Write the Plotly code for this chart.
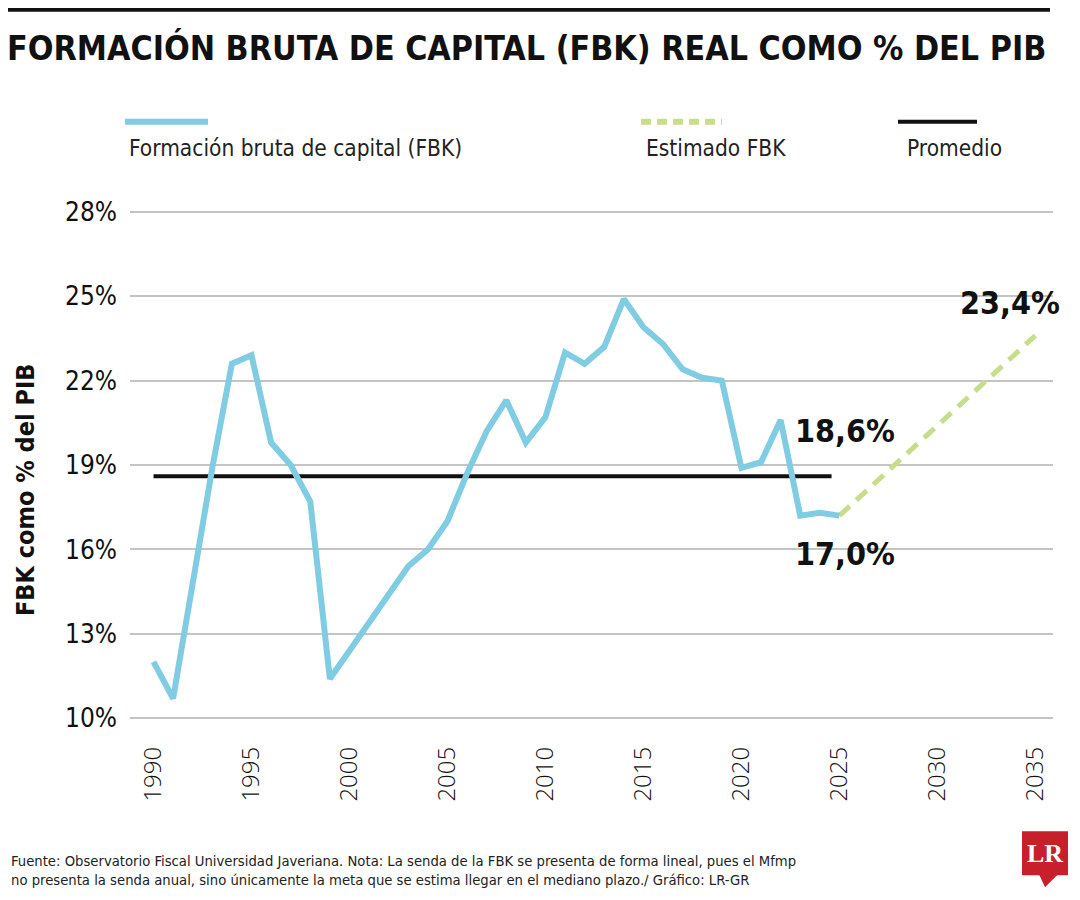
import plotly.graph_objects as go

# Formación bruta de capital real, % del PIB
years = list(range(1990, 2026))
fbk = [12.0, 10.7, 14.8, 18.9, 22.6, 22.9, 19.8, 19.0, 17.7, 11.4,
       12.4, 13.4, 14.4, 15.4, 16.0, 17.0, 18.7, 20.2, 21.3, 19.8,
       20.7, 23.0, 22.6, 23.2, 24.9, 23.9, 23.3, 22.4, 22.1, 22.0,
       18.9, 19.1, 20.6, 17.2, 17.3, 17.2]

est_years = [2025, 2035]
est_fbk = [17.2, 23.6]

avg_years = [1990, 2024.6]
avg_fbk = [18.6, 18.6]

y_ticks = [10, 13, 16, 19, 22, 25, 28]
x_ticks = [1990, 1995, 2000, 2005, 2010, 2015, 2020, 2025, 2030, 2035]

BLUE = "#7fcce3"
GREEN = "#c6dd8a"
DARK = "#111111"
NARROW = "DejaVu Sans Condensed, Liberation Sans Narrow, sans-serif"

# plot area in page pixels (page body has an 8px margin)
L, R, T, B = 130, 1053, 209.2, 720.8
W, H = 1072, 892


def px(x):
    return (x - L) / (R - L)


def py(y):
    return (B - y) / (B - T)


fig = go.Figure()

fig.add_trace(go.Scatter(x=avg_years, y=avg_fbk, mode="lines",
                         line=dict(color=DARK, width=4), hoverinfo="skip"))
fig.add_trace(go.Scatter(x=est_years, y=est_fbk, mode="lines",
                         line=dict(color=GREEN, width=5, dash="14px,9px")))
fig.add_trace(go.Scatter(x=years, y=fbk, mode="lines",
                         line=dict(color=BLUE, width=6)))

shapes = [
    # thick rule above the title
    dict(type="rect", xref="paper", yref="paper",
         x0=px(8), x1=px(1050), y0=py(12), y1=py(4),
         fillcolor=DARK, line_width=0, layer="above"),
    # legend keys
    dict(type="line", xref="paper", yref="paper",
         x0=px(125), x1=px(208), y0=py(122), y1=py(122),
         line=dict(color=BLUE, width=6)),
    dict(type="line", xref="paper", yref="paper",
         x0=px(641), x1=px(722), y0=py(122), y1=py(122),
         line=dict(color=GREEN, width=6, dash="10px,6px")),
    dict(type="line", xref="paper", yref="paper",
         x0=px(898), x1=px(977), y0=py(122), y1=py(122),
         line=dict(color=DARK, width=4)),
    # LR logo
    dict(type="rect", xref="paper", yref="paper",
         x0=px(1022), x1=px(1068), y0=py(875), y1=py(831),
         fillcolor="#c8202a", line_width=0),
    dict(type="path", xref="paper", yref="paper",
         path=f"M {px(1039)},{py(874)} L {px(1058)},{py(874)} L {px(1045)},{py(887)} Z",
         fillcolor="#c8202a", line_width=0),
]

annotations = [
    dict(text="<b>FORMACIÓN BRUTA DE CAPITAL (FBK) REAL COMO % DEL PIB</b>",
         x=px(5), y=py(48), xanchor="left", yanchor="middle",
         font=dict(family=NARROW, size=33.7, color=DARK)),
    dict(text="Formación bruta de capital (FBK)", x=px(127), y=py(148),
         xanchor="left", yanchor="middle",
         font=dict(family=NARROW, size=22.5, color="#222")),
    dict(text="Estimado FBK", x=px(644), y=py(148),
         xanchor="left", yanchor="middle",
         font=dict(family=NARROW, size=22.5, color="#222")),
    dict(text="Promedio", x=px(905), y=py(148),
         xanchor="left", yanchor="middle",
         font=dict(family=NARROW, size=22.5, color="#222")),
    dict(text="<b>FBK como % del PIB</b>", x=px(25), y=py(490),
         xanchor="center", yanchor="middle", textangle=-90,
         font=dict(family=NARROW, size=25, color=DARK)),
    dict(text="<b>18,6%</b>", xref="x", yref="y", x=2025.3, y=20.2,
         xanchor="center", yanchor="middle",
         font=dict(family=NARROW, size=32, color=DARK)),
    dict(text="<b>17,0%</b>", xref="x", yref="y", x=2025.3, y=15.85,
         xanchor="center", yanchor="middle",
         font=dict(family=NARROW, size=32, color=DARK)),
    dict(text="<b>23,4%</b>", xref="x", yref="y", x=2033.7, y=24.75,
         xanchor="center", yanchor="middle",
         font=dict(family=NARROW, size=32, color=DARK)),
    dict(text="Fuente: Observatorio Fiscal Universidad Javeriana. Nota: La senda de la FBK se presenta de forma lineal, pues el Mfmp<br>"
              "no presenta la senda anual, sino únicamente la meta que se estima llegar en el mediano plazo./ Gráfico: LR-GR",
         x=px(9), y=py(870), xanchor="left", yanchor="middle", align="left",
         font=dict(family=NARROW, size=14.7, color="#222")),
    dict(text="<b>LR</b>", x=px(1045), y=py(853), xanchor="center", yanchor="middle",
         font=dict(family="Liberation Serif, DejaVu Serif, serif", size=26, color="white")),
]

for a in annotations:
    a.setdefault("xref", "paper")
    a.setdefault("yref", "paper")
    a["showarrow"] = False

fig.update_layout(
    width=W, height=H,
    margin=dict(l=L - 8, r=W - (R - 8), t=T - 8, b=H - (B - 8), pad=0),
    paper_bgcolor="white", plot_bgcolor="white",
    showlegend=False,
    shapes=shapes,
    annotations=annotations,
)

fig.update_xaxes(
    range=[1988.8, 2035.9], tickvals=x_ticks, tickangle=-90,
    showgrid=False, zeroline=False, showline=False,
    ticks="", ticklabelstandoff=20,
    tickfont=dict(family="Open Sans, sans-serif", size=24, color=DARK, weight=300),
)
fig.update_yaxes(
    range=[9.9, 28.1], tickvals=y_ticks, ticktext=[f"{v}%" for v in y_ticks],
    showgrid=True, gridcolor="#c4c4c4", gridwidth=1.5,
    zeroline=False, showline=False, ticks="", ticklabelstandoff=12,
    tickfont=dict(family=NARROW, size=26, color=DARK),
)

fig.write_html("out.html")
